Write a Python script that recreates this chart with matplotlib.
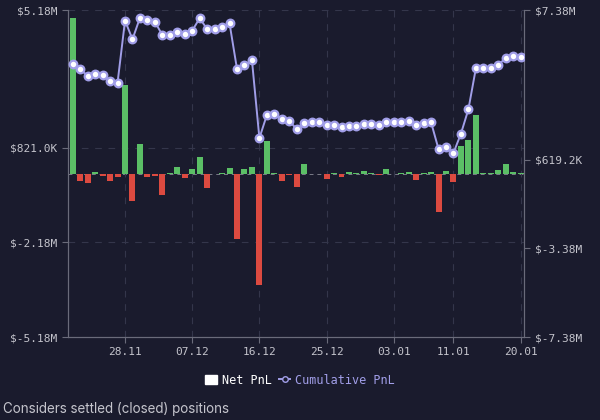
import numpy as np
import pandas as pd
import matplotlib
matplotlib.use('Agg')
import matplotlib.pyplot as plt
import matplotlib.dates as mdates
from matplotlib.lines import Line2D
from matplotlib.patches import Patch

# daily net PnL (millions $), 21.11 -> 20.01
dates = pd.date_range('2023-11-21', '2024-01-20', freq='D')
net_pnl = [4.92, -0.23, -0.31, 0.05, -0.07, -0.24, -0.10, 2.80, -0.86, 0.95,
           -0.10, -0.07, -0.68, 0.02, 0.21, -0.15, 0.15, 0.53, -0.46, 0.0,
           0.03, 0.18, -2.07, 0.15, 0.21, -3.53, 1.04, 0.02, -0.23, -0.05,
           -0.43, 0.31, 0.0, 0.0, -0.17, 0.01, -0.12, 0.05, 0.01, 0.09,
           0.01, -0.06, 0.13, 0.0, 0.01, 0.04, -0.20, 0.03, 0.05, -1.21,
           0.08, -0.26, 0.86, 1.07, 1.85, 0.02, 0.01, 0.10, 0.30, 0.05, 0.02]
cum_pnl = [4.93, 4.70, 4.41, 4.49, 4.43, 4.19, 4.10, 6.90, 6.06, 7.03,
           6.93, 6.85, 6.25, 6.25, 6.40, 6.28, 6.45, 7.01, 6.52, 6.54,
           6.60, 6.78, 4.72, 4.90, 5.12, 1.60, 2.64, 2.67, 2.45, 2.38,
           2.00, 2.29, 2.31, 2.31, 2.19, 2.19, 2.09, 2.14, 2.14, 2.23,
           2.23, 2.20, 2.34, 2.34, 2.31, 2.36, 2.20, 2.27, 2.31, 1.10,
           1.20, 0.93, 1.80, 2.90, 4.75, 4.78, 4.78, 4.91, 5.21, 5.30, 5.27]

left_ticks = [5.18, 0.821, -2.18, -5.18]
left_labels = ['$5.18M', '$821.0K', '$-2.18M', '$-5.18M']
right_ticks = [7.38, 0.6192, -3.38, -7.38]
right_labels = ['$7.38M', '$619.2K', '$-3.38M', '$-7.38M']
date_ticks = ['2023-11-28', '2023-12-07', '2023-12-16', '2023-12-25',
              '2024-01-03', '2024-01-11', '2024-01-20']
date_labels = ['28.11', '07.12', '16.12', '25.12', '03.01', '11.01', '20.01']

BG = '#1a1b2d'
GREEN = '#5bbf66'
RED = '#dc4a40'
LINE = '#a19ee8'
TXT = '#c4c4cc'
SPINE = '#6a6b7a'
GRID = '#34364b'
MONO = 'DejaVu Sans Mono'

fig = plt.figure(figsize=(6, 4.2), dpi=100, facecolor=BG)
ax = fig.add_axes([0.1135, 0.1976, 0.7605, 0.7785])
ax.set_facecolor(BG)

colors = [GREEN if v >= 0 else RED for v in net_pnl]
ax.bar(dates, net_pnl, width=0.8, color=colors, zorder=2)
ax.axhline(0, color='#7a7b88', lw=0.7, ls=(0, (4, 4)), zorder=1)

ax.set_ylim(-5.18, 5.18)
ax.set_xlim(dates[0] - pd.Timedelta(hours=15), dates[-1] + pd.Timedelta(hours=12))
ax.set_yticks(left_ticks)
ax.set_yticklabels(left_labels)
ax.set_xticks(pd.to_datetime(date_ticks))
ax.set_xticklabels(date_labels)
ax.grid(True, color=GRID, lw=0.8, ls=(0, (6, 6)), zorder=0)

ax2 = ax.twinx()
ax2.plot(dates, cum_pnl, color=LINE, lw=1.4, marker='o', markersize=5.5,
         markerfacecolor='white', markeredgecolor=LINE, markeredgewidth=1.6, zorder=3)
ax2.set_ylim(-7.38, 7.38)
ax2.set_yticks(right_ticks)
ax2.set_yticklabels(right_labels)

for a in (ax, ax2):
    a.spines['top'].set_visible(False)
    for s in ('left', 'right', 'bottom'):
        a.spines[s].set_color(SPINE)
    a.tick_params(colors=SPINE, labelcolor=TXT, labelsize=8, length=4, width=0.8)
    for lab in a.get_xticklabels() + a.get_yticklabels():
        lab.set_family(MONO)

handles = [Patch(facecolor='white', edgecolor='white'),
           Line2D([0], [0], color=LINE, lw=1.4, marker='o', markersize=4,
                  markerfacecolor=BG, markeredgecolor=LINE)]
leg = fig.legend(handles, ['Net PnL', 'Cumulative PnL'], loc='center',
                 bbox_to_anchor=(0.5, 0.095), ncol=2, frameon=False,
                 prop={'family': MONO, 'size': 8.5}, handlelength=1.0,
                 handletextpad=0.4, columnspacing=0.6)
leg.get_texts()[0].set_color('white')
leg.get_texts()[1].set_color(LINE)

fig.text(0.005, 0.026, 'Considers settled (closed) positions', color=TXT,
         fontsize=9.7, family='Inter', va='center', ha='left')

fig.savefig('out.png', dpi=100, facecolor=BG)
